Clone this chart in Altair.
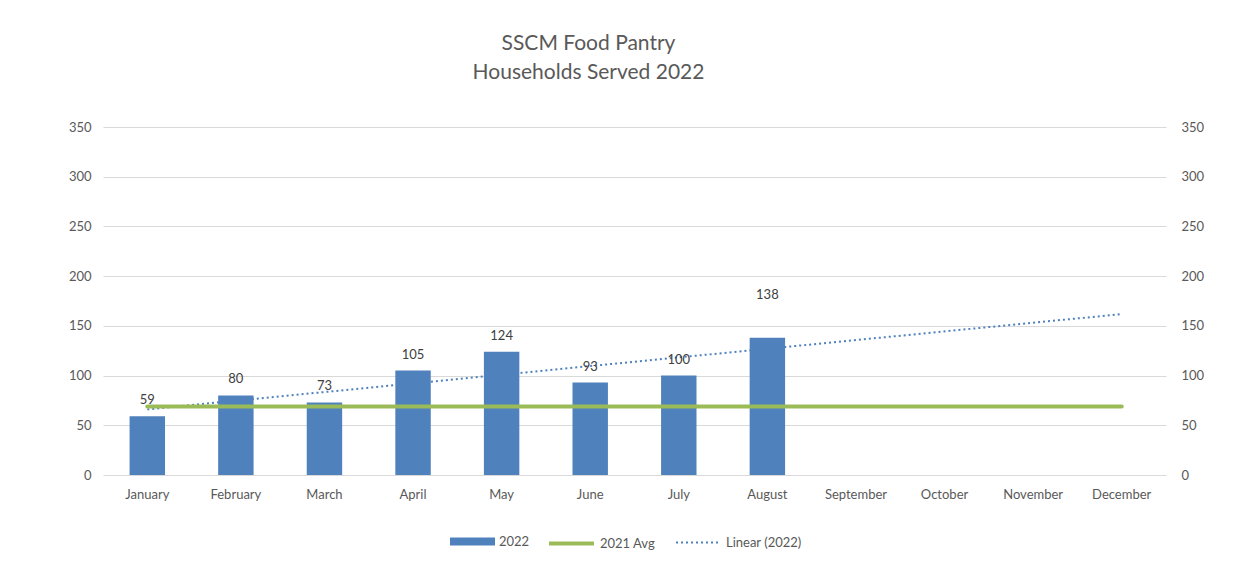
import altair as alt
import pandas as pd

months = ["January", "February", "March", "April", "May", "June",
          "July", "August", "September", "October", "November", "December"]
households_2022 = [59, 80, 73, 105, 124, 93, 100, 138]
avg_2021 = 69
y_ticks = [0, 50, 100, 150, 200, 250, 300, 350]
series_names = ["2022", "2021 Avg", "Linear (2022)"]

BLUE = "#4F81BD"
GREEN = "#9BBB59"
FONT = "Lato"
TXT = "#595959"

bars_df = pd.DataFrame({
    "month": months[:len(households_2022)],
    "idx": list(range(1, len(households_2022) + 1)),
    "value": households_2022,
    "series": series_names[0],
})
avg_df = pd.DataFrame({
    "month": months,
    "value": [avg_2021] * len(months),
    "series": series_names[1],
})

leg_common = dict(title=None, orient="none", direction="horizontal",
                  labelFont=FONT, labelFontSize=13, labelColor=TXT,
                  symbolSize=2025, labelOffset=4, symbolOpacity=1, padding=0)
LEG_Y = 392

x_scale = alt.Scale(domain=months, paddingInner=0.6, paddingOuter=0.3)
y_scale = alt.Scale(domain=[0, 350])

x_main = alt.X("month:N", sort=months, scale=x_scale, title=None,
               axis=alt.Axis(labelAngle=0, labelFont=FONT, labelFontSize=13,
                             labelColor=TXT, domain=False, ticks=False,
                             labelPadding=13, grid=False))
y_left = alt.Y("value:Q", scale=y_scale, title=None,
               axis=alt.Axis(values=y_ticks, labelFont=FONT, labelFontSize=13,
                             labelColor=TXT, domain=False, ticks=False,
                             labelPadding=12, grid=True, gridColor="#D9D9D9",
                             gridWidth=1, gridOpacity=1))

bars = alt.Chart(bars_df).mark_bar().encode(
    x=x_main, y=y_left,
    fill=alt.Fill("series:N", scale=alt.Scale(domain=[series_names[0]], range=[BLUE]),
                  legend=alt.Legend(symbolType="M-1,-0.18H1V0.18H-1Z",
                                    symbolStrokeWidth=0, legendX=347, legendY=LEG_Y,
                                    **leg_common)),
)
avg_line = alt.Chart(avg_df).mark_line(strokeWidth=4, strokeCap="round").encode(
    x=x_main, y=y_left,
    stroke=alt.Stroke("series:N", scale=alt.Scale(domain=[series_names[1]], range=[GREEN]),
                      legend=alt.Legend(symbolType="stroke", symbolStrokeWidth=4,
                                        legendX=444, legendY=LEG_Y, **leg_common)),
)
labels = alt.Chart(bars_df).transform_filter(
    "datum.month != 'August'"
).mark_text(dy=-16, font=FONT, fontSize=13, color="#404040").encode(
    x=x_main, y=y_left, text=alt.Text("value:Q"),
)
label_aug = alt.Chart(bars_df).transform_filter(
    "datum.month == 'August'"
).mark_text(dy=-43, font=FONT, fontSize=13, color="#404040").encode(
    x=x_main, y=y_left, text=alt.Text("value:Q"),
)

trend = alt.Chart(bars_df).transform_regression(
    "idx", "value", extent=[1, 12]
).transform_calculate(
    series="'Linear (2022)'"
).mark_line(strokeWidth=2, color=BLUE).encode(
    x=alt.X("idx:Q", scale=alt.Scale(domain=[0.5, 12.5], nice=False, zero=False), axis=None),
    y=alt.Y("value:Q", scale=y_scale, axis=None),
    strokeDash=alt.StrokeDash("series:N",
                              scale=alt.Scale(domain=[series_names[2]], range=[[2, 3]]),
                              legend=alt.Legend(symbolType="stroke", symbolStrokeWidth=2,
                                                symbolStrokeColor=BLUE, legendX=572,
                                                legendY=LEG_Y, **leg_common)),
)

right_axis = alt.Chart(avg_df).mark_line(opacity=0).encode(
    x=alt.X("month:N", sort=months, scale=x_scale, axis=None),
    y=alt.Y("value:Q", scale=y_scale, title=None,
            axis=alt.Axis(orient="right", values=y_ticks, labelFont=FONT,
                          labelFontSize=13, labelColor=TXT, domain=False,
                          ticks=False, labelPadding=15, grid=False)),
)

main = alt.layer(bars, avg_line, labels, label_aug)

chart = alt.layer(trend, main, right_axis).resolve_scale(
    x="independent", y="independent"
).properties(
    width=1063, height=348,
    padding={"left": 95, "top": 119, "right": 70, "bottom": 81},
    autosize=alt.AutoSizeParams(type="none"),
    background="white",
    title=alt.TitleParams(
        ["SSCM Food Pantry", "Households Served 2022"],
        font=FONT, fontSize=21, fontWeight="normal", color=TXT,
        lineHeight=29, offset=38, dx=-46, frame="group", anchor="middle",
    ),
).configure_view(stroke=None)

chart.save("out.html", embed_options={"renderer": "svg", "actions": False})
